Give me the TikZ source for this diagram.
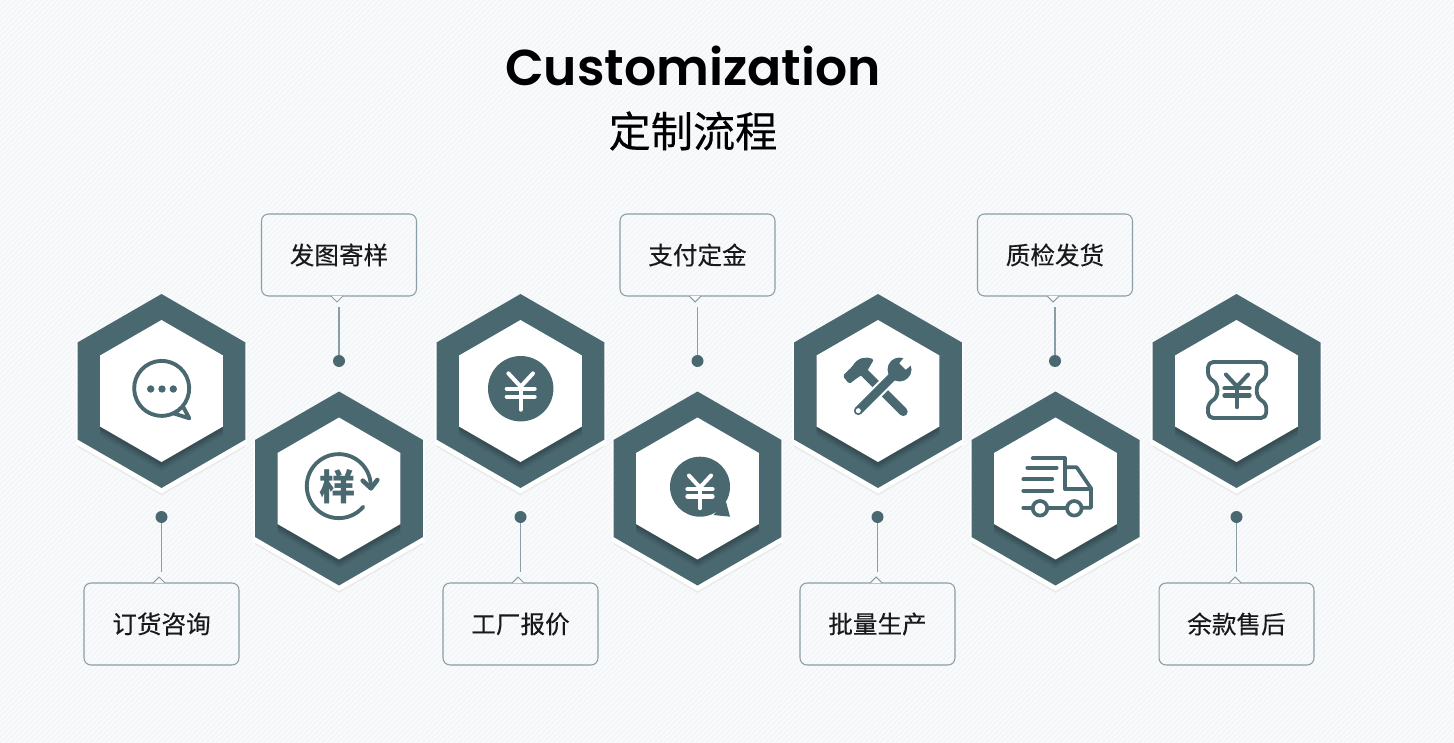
\documentclass[tikz,border=0pt]{standalone}
\usepackage{fontspec}
\setmainfont{Poppins}[BoldFont={Poppins SemiBold}]
\newfontfamily\cjk{Noto Sans CJK SC}
\newfontfamily\cjkfat{Noto Sans CJK SC}[FakeBold=0.25]
\usetikzlibrary{patterns, shadows, shapes.geometric}
\definecolor{slate}{HTML}{4A6870}
\definecolor{wireline}{HTML}{8A9EA5}
\definecolor{paper}{HTML}{F8FAFB}
\definecolor{hatch}{HTML}{F1F4F6}
\tikzset{
  hexout/.style={regular polygon, regular polygon sides=6, shape border rotate=30, inner sep=0pt,
    minimum size=3.88cm, fill=slate,
    general shadow={fill=black!14, shadow yshift=-4.2pt, shadow scale=1.0, opacity=.45},
    general shadow={fill=white, shadow yshift=-2pt, shadow scale=1.02}},
  hexin/.style={regular polygon, regular polygon sides=6, shape border rotate=30, inner sep=0pt,
    minimum size=2.84cm, fill=white,
    general shadow={fill=black, shadow yshift=-5pt, shadow scale=1.0, opacity=.06},
    general shadow={fill=black, shadow yshift=-3.5pt, shadow scale=1.0, opacity=.08},
    general shadow={fill=black, shadow yshift=-2pt, shadow scale=1.0, opacity=.1}},
  stepbox/.style={draw=wireline, line width=0.6pt, rounded corners=4pt,
    minimum width=3.1cm, minimum height=1.64cm, inner sep=0pt, font=\cjkfat\fontsize{14}{16}\selectfont, text=black!90},
  notch/.style={draw=wireline, line width=0.6pt, fill=paper},
  pin/.style={circle, fill=slate, inner sep=0pt, minimum size=0.24cm},
  wire/.style={draw=wireline, line width=0.9pt},
  iconline/.style={draw=slate, line width=2.2pt, line cap=round, line join=round},
  truckline/.style={iconline, line width=2.1pt},
  pics/yenmark/.style={code={
    \draw[line width=2.3pt, line cap=round, line join=round, #1] (-12.3,-15.3) -- (0,-2) -- (12.3,-15.3);
    \draw[line width=2.3pt, line cap=round, #1] (-14,0) -- (14,0);
    \draw[line width=2.3pt, line cap=round, #1] (-14,8) -- (14,8);
    \draw[line width=2.3pt, line cap=round, #1] (0,-2) -- (0,21);
  }},
  pics/yenmark/.default=white,
}

\begin{document}
\begin{tikzpicture}[x=0.02cm, y=-0.02cm]
  \useasboundingbox (0,0) rectangle (1454,743);

  % fondo
  \fill[paper] (0,0) rectangle (1454,743);
  \fill[pattern=north east lines, pattern color=hatch] (0,0) rectangle (1454,743);

  % titolo
  \node[font=\bfseries\fontsize{28.7}{34}\selectfont] (title) at (693,66) {Customization};
  \node[font=\cjkfat\fontsize{24}{28}\selectfont] (subtitle) at (693,131) {定制流程};

  % esagoni alti
  \node[hexout] (outA) at (161.5,391) {};
  \node[hexin] (inA) at (161.5,391) {};
  \node[hexout] (outC) at (520.5,391) {};
  \node[hexin] (inC) at (520.5,391) {};
  \node[hexout] (outE) at (878,391) {};
  \node[hexin] (inE) at (878,391) {};
  \node[hexout] (outG) at (1236.5,391) {};
  \node[hexin] (inG) at (1236.5,391) {};

  % esagoni bassi
  \node[hexout] (outB) at (339,488.5) {};
  \node[hexin] (inB) at (339,488.5) {};
  \node[hexout] (outD) at (697.5,488.5) {};
  \node[hexin] (inD) at (697.5,488.5) {};
  \node[hexout] (outF) at (1055.5,488.5) {};
  \node[hexin] (inF) at (1055.5,488.5) {};

  % etichette e punti
  \node[stepbox] (boxA) at (161.5,624) {订货咨询};
  \node[stepbox] (boxB) at (339,255) {发图寄样};
  \node[stepbox] (boxC) at (520.5,624) {工厂报价};
  \node[stepbox] (boxD) at (697.5,255) {支付定金};
  \node[stepbox] (boxE) at (877.5,624) {批量生产};
  \node[stepbox] (boxF) at (1055,255) {质检发货};
  \node[stepbox] (boxG) at (1236.5,624) {余款售后};
  \node[pin] (pinA) at (161.5,517) {};
  \node[pin] (pinB) at (339,361) {};
  \node[pin] (pinC) at (520.5,517) {};
  \node[pin] (pinD) at (697.5,361) {};
  \node[pin] (pinE) at (877.5,517) {};
  \node[pin] (pinF) at (1055,361) {};
  \node[pin] (pinG) at (1236.5,517) {};

  % punte delle etichette
  \draw[notch] (153,583) -- (159,577) -- (165,583);
  \draw[notch] (331,296) -- (337,302) -- (343,296);
  \draw[notch] (512,583) -- (518,577) -- (524,583);
  \draw[notch] (689,296) -- (695,302) -- (701,296);
  \draw[notch] (870,583) -- (876,577) -- (882,583);
  \draw[notch] (1047,296) -- (1053,302) -- (1059,296);
  \draw[notch] (1229,583) -- (1235,577) -- (1241,583);

  % fili
  \draw[wire, shorten >=5.8pt] (pinA) -- (boxA);
  \draw[wire, shorten >=5.8pt] (pinB) -- (boxB);
  \draw[wire, shorten >=5.8pt] (pinC) -- (boxC);
  \draw[wire, shorten >=5.8pt] (pinD) -- (boxD);
  \draw[wire, shorten >=5.8pt] (pinE) -- (boxE);
  \draw[wire, shorten >=5.8pt] (pinF) -- (boxF);
  \draw[wire, shorten >=5.8pt] (pinG) -- (boxG);

  % icona fumetto
  \draw[iconline] (173.3,413.3) arc (65:-320:27.5) -- (189.3,418.3) -- cycle;
  \fill[slate] (150.7,389) circle (3.7);
  \fill[slate] (162,389) circle (3.7);
  \fill[slate] (173.3,389) circle (3.7);

  % icona campione
  \draw[iconline] (363.3,506.7) arc (40:356:32);
  \draw[iconline, line width=2.6pt] (362.7,480.7) -- (371,488.3) -- (377.3,480);
  \node[font=\cjk\bfseries\fontsize{20.5}{20}\selectfont, text=slate] (sampleMark) at (337.3,486.5) {样};

  % icona moneta
  \fill[slate] (520.7,388.7) circle (32.7);
  \pic at (520.7,388.7) {yenmark};

  % icona fumetto con moneta
  \fill[slate] (700,486.7) circle (30);
  \fill[slate] (726,501.7) -- (730,516.7) -- (713.3,515) -- cycle;
  \pic[scale=.9] at (700,489.3) {yenmark};

  % icona martello e chiave
  \draw[slate, line width=5pt, line cap=round] (861.7,370) -- (903.3,411.7);
  \fill[slate, rounded corners=1pt] (842.7,376) -- (849.3,384) -- (856.7,378.3) -- (866.7,371.7) -- (874,359.3) .. controls (866,356.5) and (858,357) .. (851.7,367.3) -- (846.7,371.7) -- cycle;
  \draw[white, line width=7.4pt] (860.3,408.7) -- (893,376);
  \draw[slate, line width=5pt, line cap=round] (858.3,410.7) -- (895,374);
  \fill[white] (858.3,410.7) circle (2.5);
  \fill[slate] (899.5,369.5) circle (12);
  \fill[white] (899.3,363.3) -- (905.7,369.7) -- (914.9,361.9) -- (907.1,354.1) -- cycle;

  % icona camion
  \draw[truckline] (1032.7,458.3) -- (1065,458.3) -- (1065,489.3) -- (1091,489.3);
  \draw[truckline] (1027.3,467.7) -- (1056.7,467.7);
  \draw[truckline] (1023.3,479.3) -- (1052.3,479.3);
  \draw[truckline] (1023.3,490.7) -- (1052.3,490.7);
  \draw[truckline] (1066.7,467.3) -- (1076.7,467.3) -- (1091,488.3) -- (1091,507.7) -- (1083.3,507.7);
  \draw[truckline] (1040,508.3) circle (7.3);
  \draw[truckline] (1074.3,508.3) circle (7.3);
  \draw[truckline] (1023.3,507.7) -- (1032.7,507.7);
  \draw[truckline] (1047.3,507.7) -- (1066.7,507.7);

  % icona biglietto
  \draw[iconline, rounded corners=3pt] (1208,362) -- (1266.3,362) -- (1266.3,378) .. controls (1255,384) and (1255,397) .. (1266.3,403) -- (1266.3,418) -- (1208,418) -- (1208,403) .. controls (1219,397) and (1219,384) .. (1208,378) -- cycle;
  \pic[scale=.9] at (1237,388.3) {yenmark=slate};
\end{tikzpicture}
\end{document}
